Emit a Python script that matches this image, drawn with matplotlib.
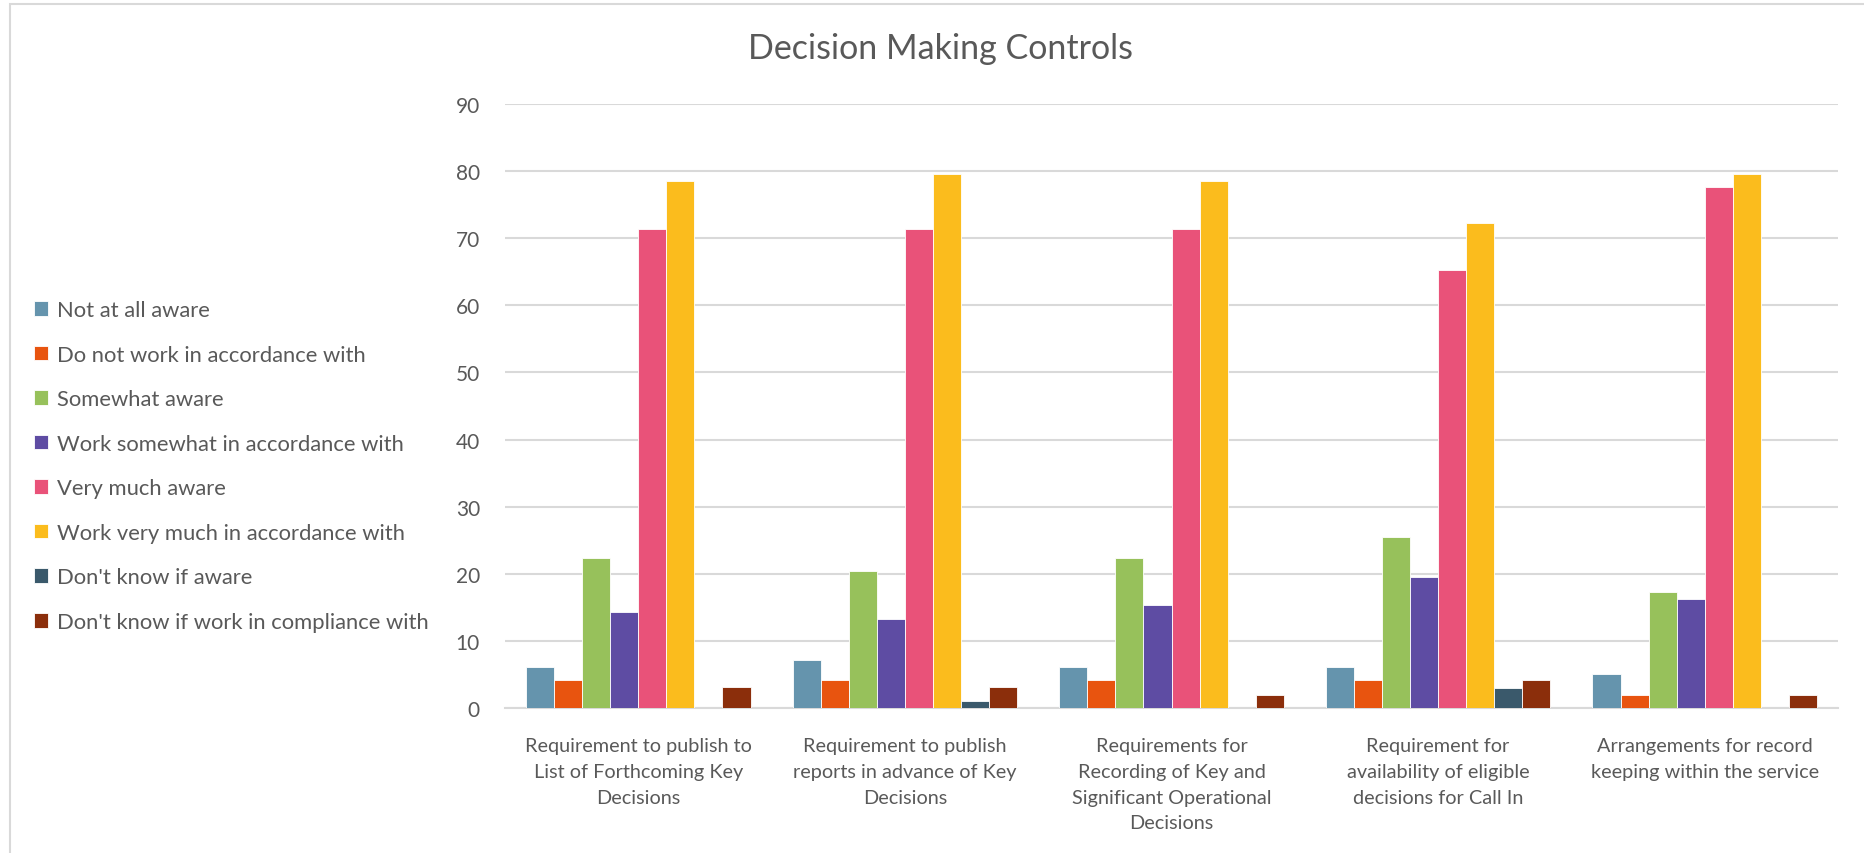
import matplotlib
matplotlib.use("Agg")
import matplotlib.pyplot as plt
import numpy as np
from matplotlib.patches import Rectangle

categories = [
    "Requirement to publish to\nList of Forthcoming Key\nDecisions",
    "Requirement to publish\nreports in advance of Key\nDecisions",
    "Requirements for\nRecording of Key and\nSignificant Operational\nDecisions",
    "Requirement for\navailability of eligible\ndecisions for Call In",
    "Arrangements for record\nkeeping within the service",
]
series_names = [
    "Not at all aware",
    "Do not work in accordance with",
    "Somewhat aware",
    "Work somewhat in accordance with",
    "Very much aware",
    "Work very much in accordance with",
    "Don't know if aware",
    "Don't know if work in compliance with",
]
not_at_all_aware = [6.1, 7.1, 6.1, 6.1, 5.1]
do_not_work = [4.1, 4.1, 4.1, 4.1, 2.0]
somewhat_aware = [22.4, 20.4, 22.4, 25.5, 17.3]
work_somewhat = [14.3, 13.3, 15.3, 19.5, 16.3]
very_much_aware = [71.4, 71.4, 71.4, 65.3, 77.6]
work_very_much = [78.6, 79.6, 78.6, 72.2, 79.6]
dont_know_aware = [0, 1.0, 0, 3.0, 0]
dont_know_work = [3.1, 3.1, 2.0, 4.1, 2.0]
yticks = [0, 10, 20, 30, 40, 50, 60, 70, 80, 90]

series = [not_at_all_aware, do_not_work, somewhat_aware, work_somewhat,
          very_much_aware, work_very_much, dont_know_aware, dont_know_work]
colors = ["#6594AD", "#E8540F", "#97C15B", "#5E4CA3",
          "#E95279", "#FBBC1D", "#3A596B", "#8B2E0B"]

plt.rcParams['font.family'] = ['Lato', 'DejaVu Sans']
text_color = "#595959"

fig = plt.figure(figsize=(18.65, 8.54), dpi=100)
ax = fig.add_axes([505/1865, 1-709/854, (1838-505)/1865, (709-105)/854])

n = len(series)
x = np.arange(len(categories))
w = 1/(n+1.5)
handles = []
for i, (vals, c, name) in enumerate(zip(series, colors, series_names)):
    b = ax.bar(x + (i-(n-1)/2)*w, vals, width=w, color=c, edgecolor="white",
               linewidth=0.6, label=name, zorder=3)
    handles.append(b)

ax.set_xlim(-0.5, len(categories)-0.5)
ax.set_ylim(0, 90)
ax.set_yticks(yticks)
ax.set_yticklabels([str(t) for t in yticks], fontsize=15, color=text_color)
ax.set_xticks(x)
ax.set_xticklabels(categories, fontsize=14.3, color=text_color, linespacing=1.62, va="top")
ax.tick_params(axis="both", length=0)
ax.tick_params(axis="y", pad=18)
ax.tick_params(axis="x", pad=21)
ax.grid(axis="y", color="#D9D9D9", linewidth=1.5, zorder=0)
for s in ["top", "right", "left"]:
    ax.spines[s].set_visible(False)
ax.spines["bottom"].set_color("#D9D9D9")
ax.spines["bottom"].set_linewidth(1.5)

fig.text(941/1865, 1-49/854, "Decision Making Controls", ha="center", va="center",
         fontsize=24.5, color=text_color)

fig.legend(handles=handles, labels=series_names, loc="center left",
           bbox_to_anchor=(25/1865, 1-467/854), frameon=False,
           fontsize=15.8, labelcolor=text_color, handlelength=0.65, handleheight=0.65,
           handletextpad=0.4, labelspacing=1.12, borderaxespad=0)

fig.patches.append(Rectangle((10/1865, -0.01), 1.02, 1-5/854+0.01, transform=fig.transFigure,
                             fill=False, edgecolor="#D9D9D9", linewidth=1.5, zorder=0))

fig.savefig("out.png", dpi=100, facecolor="white")
